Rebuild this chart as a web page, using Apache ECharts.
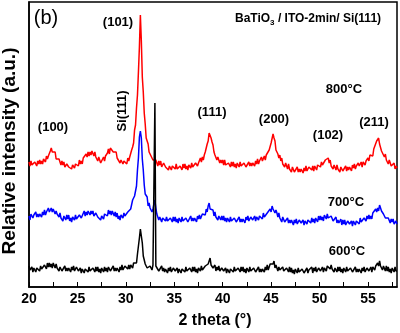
<!DOCTYPE html>
<html>
<head>
<meta charset="utf-8">
<script src="https://cdn.jsdelivr.net/npm/echarts/dist/echarts.min.js"></script>
<style>
html,body{margin:0;padding:0;background:#fff;}
#chart{width:400px;height:333px;}
</style>
</head>
<body>
<div id="chart"></div>
<script>
// 2θ sampling: 20.0° to 58.0° in 0.1° steps
const thetaStart = 20.0;
const thetaStep = 0.1;

const xTickLabels = ['20', '25', '30', '35', '40', '45', '50', '55'];
const seriesNames = ['800°C', '700°C', '600°C'];

// Relative intensity (a.u.), one row per degree (x.0 ... x.9)
const int800 = [
125,121,126,122,124,120,125,123,121,126,
123,127,123,126,123,128,128,125,131,128,
131,129,136,139,135,136,133,135,128,130,
126,128,129,122,126,122,125,120,121,123,
124,120,118,122,118,122,123,119,123,121,
125,121,127,123,126,123,129,128,127,133,
130,135,131,135,132,136,135,131,135,130,
131,126,130,130,124,126,125,130,126,131,
129,134,138,133,139,137,141,135,136,136,
135,129,127,130,124,127,128,123,126,124,
127,123,129,126,130,128,137,140,144,157,
162,179,192,215,240,272,246,210,195,174,
163,149,147,143,135,134,131,133,127,129,
125,127,128,121,126,122,126,120,122,124,
124,120,119,122,117,121,122,117,121,119,
122,118,123,118,120,116,121,119,117,123,
119,123,118,121,117,122,122,119,124,120,
122,119,124,126,121,124,124,129,125,130,
127,132,135,135,143,146,154,155,149,145,
142,135,132,134,127,130,130,124,127,124,
127,122,127,122,124,120,124,122,120,125,
121,125,120,123,119,124,123,120,125,121,
123,119,124,125,120,122,121,125,121,124,
121,124,126,121,126,123,128,123,126,128,
130,126,126,131,127,132,134,131,137,138,
144,144,153,149,146,137,138,133,129,132,
126,129,123,125,120,124,122,118,123,118,
120,115,120,121,115,117,116,120,115,118,
115,118,120,114,119,116,121,116,118,120,
121,118,117,121,116,121,122,117,122,120,
123,120,125,122,124,121,127,126,125,129,
124,127,121,123,118,122,121,117,122,118,
119,115,120,121,116,118,117,121,116,120,
117,120,122,116,122,119,123,118,121,123,
124,121,120,125,120,125,126,122,126,125,
129,126,132,130,133,131,138,138,138,146,
144,149,143,143,136,138,135,130,133,127,
128,123,127,127,121,122,120,124,118,121,
119
];

const int700 = [
71,67,73,74,69,72,71,75,70,73,
70,73,75,70,75,72,77,72,75,77,
79,75,75,79,75,78,79,73,76,73,
75,70,74,69,71,66,71,69,67,72,
68,72,66,69,65,70,69,67,72,68,
70,67,72,73,69,71,71,76,71,75,
72,76,78,72,76,73,76,71,72,74,
74,70,69,72,67,71,73,68,73,71,
75,71,77,73,76,72,76,74,71,75,
70,74,68,71,67,72,72,69,74,71,
73,69,75,76,73,78,80,87,85,91,
96,101,117,129,150,156,149,128,117,102,
93,91,90,81,84,79,81,75,78,83,
87,79,73,74,67,70,71,65,69,67,
70,66,70,66,68,64,69,67,65,70,
66,70,65,68,64,69,68,65,70,66,
68,64,69,70,65,67,66,71,66,69,
66,69,71,65,71,68,72,68,70,73,
75,72,72,78,75,81,84,78,80,76,
77,71,75,70,71,67,71,69,67,71,
67,71,66,69,65,69,68,65,70,66,
68,64,69,70,65,67,66,70,65,68,
65,68,70,64,70,67,71,66,68,70,
71,67,67,71,66,70,72,67,71,69,
72,68,74,70,72,69,74,73,72,78,
75,81,78,80,74,77,74,70,74,69,
70,65,70,70,65,67,65,69,64,67,
64,67,69,62,67,64,68,63,65,67,
68,64,63,67,62,66,68,63,67,65,
68,64,69,65,68,64,69,67,65,71,
67,71,67,70,66,72,71,68,73,69,
71,67,71,72,66,68,66,70,64,67,
64,66,68,62,67,63,67,62,64,66,
67,63,62,66,61,66,67,62,66,64,
67,63,69,65,67,64,69,67,66,71,
68,72,68,71,68,74,74,72,78,75,
79,76,82,82,76,76,73,75,69,71,
67,69,70,64,68,65,68,63,64,66,
63
];

const int600 = [
21,17,16,20,15,19,20,15,19,17,
20,16,21,18,20,16,22,20,18,24,
20,24,20,23,19,24,22,19,23,19,
20,16,20,21,16,18,17,21,16,19,
16,19,21,15,20,17,21,16,18,20,
20,16,15,19,14,18,19,14,18,16,
19,15,20,16,18,14,19,17,15,20,
16,20,15,18,14,19,18,15,20,16,
19,15,20,21,16,18,17,21,16,19,
16,19,21,15,20,17,22,17,19,21,
22,19,18,22,18,22,24,19,24,22,
26,24,33,35,49,58,58,44,31,30,
23,25,19,21,17,21,20,17,22,21,
184,21,22,22,16,18,17,21,16,19,
15,18,20,14,19,16,20,15,17,19,
20,16,15,19,14,18,19,14,18,16,
19,15,20,16,18,14,19,17,15,20,
16,20,15,18,14,19,19,16,21,17,
19,16,21,23,19,23,24,29,22,23,
19,21,22,16,20,17,21,16,18,19,
20,16,15,19,14,18,19,14,18,16,
19,15,20,16,18,14,19,17,15,20,
16,20,15,18,14,19,18,15,20,16,
18,14,19,20,15,17,16,20,15,18,
15,18,20,15,20,17,22,17,20,23,
25,23,23,26,19,22,22,16,20,17,
19,15,20,16,18,14,19,17,15,20,
15,19,14,17,13,18,17,14,19,15,
17,13,18,19,14,16,15,19,14,17,
15,18,20,14,19,16,20,15,17,19,
20,16,15,20,15,19,21,16,21,19,
22,18,22,18,19,15,19,17,15,20,
16,20,15,18,14,19,18,15,20,16,
18,14,19,20,15,17,16,20,15,18,
15,18,20,14,19,16,20,15,17,19,
20,16,16,20,15,20,21,17,21,20,
24,21,26,21,22,17,21,19,16,21,
16,20,15,18,14,19,18,15,20,16,
16
];

const peakLabels = ['(100)', '(101)', '(111)', '(200)', '(102)', '(211)'];

function pairs(arr) {
  return arr.map((v, i) => [Math.round((thetaStart + i * thetaStep) * 10) / 10, v]);
}

const FONT = "'Liberation Sans', Arial, sans-serif";
const chart = echarts.init(document.getElementById('chart'), null, {renderer: 'canvas'});

function txt(text, x, y, size, weight, extra) {
  return Object.assign({
    type: 'text', x: x, y: y, z: 100,
    style: {text: text, fill: '#000', font: (weight || 'bold') + ' ' + size + 'px ' + FONT,
            align: 'center', verticalAlign: 'middle'}
  }, extra || {});
}

chart.setOption({
  animation: false,
  backgroundColor: '#fff',
  grid: {left: 29, right: 3, top: 2, bottom: 46, show: true, borderColor: '#000', borderWidth: 1.5},
  xAxis: {
    type: 'value', min: 20, max: 58, interval: 2.5,
    axisLine: {show: true, lineStyle: {color: '#000', width: 1.5}},
    axisTick: {show: true, inside: true, length: 5, lineStyle: {color: '#000', width: 1}},
    splitLine: {show: false},
    axisLabel: {
      color: '#000', fontWeight: 'bold', fontSize: 14, fontFamily: FONT, margin: 5,
      showMaxLabel: false,
      formatter: function (v) {
        const s = String(Math.round(v));
        return (Math.abs(v - Math.round(v)) < 1e-6 && xTickLabels.indexOf(s) >= 0) ? s : '';
      }
    }
  },
  yAxis: {
    type: 'value', min: 0, max: 285,
    axisLine: {show: true, lineStyle: {color: '#000', width: 1.5}},
    axisTick: {show: false}, axisLabel: {show: false}, splitLine: {show: false}
  },
  series: [
    {name: seriesNames[0], type: 'line', data: pairs(int800), showSymbol: false,
     lineStyle: {color: '#ff0000', width: 1.5}, z: 2},
    {name: seriesNames[1], type: 'line', data: pairs(int700), showSymbol: false,
     lineStyle: {color: '#0000ff', width: 1.5}, z: 3},
    {name: seriesNames[2], type: 'line', data: pairs(int600), showSymbol: false,
     lineStyle: {color: '#000000', width: 1.5}, z: 4}
  ],
  graphic: [
    txt('(b)', 46, 18, 20, 'normal'),
    txt(peakLabels[0], 53, 127, 13),
    txt(peakLabels[1], 118, 22, 13),
    txt('Si(111)', 122.5, 111, 13, 'bold', {rotation: Math.PI / 2}),
    txt(peakLabels[2], 212, 112, 13),
    txt(peakLabels[3], 274, 119, 13),
    txt(peakLabels[4], 328, 135, 13),
    txt(peakLabels[5], 374, 122, 13),
    txt(seriesNames[0], 344, 89, 13),
    txt(seriesNames[1], 346, 202, 13),
    txt(seriesNames[2], 347, 251, 13),
    {
      type: 'text', x: 235, y: 19, z: 100,
      style: {
        text: '{a|BaTiO}{s|3}{a| / ITO-2min/ Si(111)}',
        align: 'left', verticalAlign: 'middle',
        rich: {
          a: {fontSize: 12, fontWeight: 'bold', fontFamily: FONT, fill: '#000', color: '#000'},
          s: {fontSize: 8, fontWeight: 'bold', fontFamily: FONT, fill: '#000', color: '#000', padding: [8, 0, 0, 0]}
        }
      }
    },
    txt('2 theta (°)', 215, 321, 16),
    txt('Relative intensity (a.u.)', 10, 151, 19, 'bold', {rotation: Math.PI / 2})
  ]
});
</script>
</body>
</html>
